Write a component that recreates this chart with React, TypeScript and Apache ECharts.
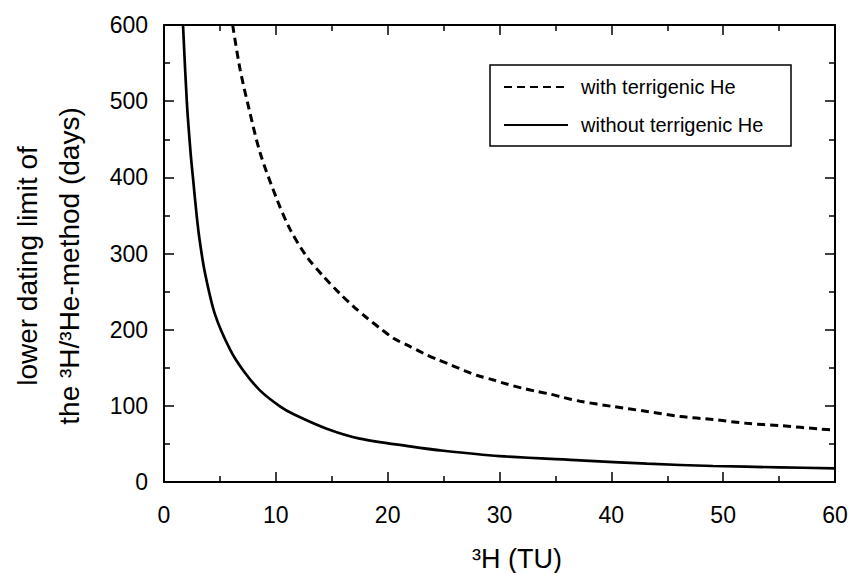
import React, { useEffect, useRef } from "react";
import * as echarts from "echarts";

// "with terrigenic He" (dashed)
const withX = [6.14, 6.8, 7.6, 8.6, 10.1, 11.3, 12.76, 14.25, 15.75, 16.9, 18.1, 19.4, 20.6, 21.85, 23.2, 24.5, 25.7, 26.9, 28.1, 29.45, 30.65, 32.0, 33.3, 34.5, 35.7, 37.2, 40.2, 43.2, 46.2, 49.1, 52.1, 55.1, 58.7, 60];
const withY = [600, 542, 490, 432, 371, 331, 296, 270, 247, 231, 216, 201, 188, 179, 169, 160.5, 153.5, 146, 139.5, 134, 128.6, 123.4, 119, 115.5, 111, 106, 99, 92.6, 86, 82, 77, 74, 69.5, 68];

// "without terrigenic He" (solid)
const withoutX = [1.7, 2.05, 2.39, 2.62, 2.92, 3.2, 3.67, 4.56, 5.9, 7.1, 8.6, 10.4, 11.6, 14.55, 17.5, 22, 25, 30, 37.2, 43.2, 49.1, 55, 60];
const withoutY = [600, 497, 430, 395, 350, 316, 274, 220, 174, 146, 120, 99, 89, 70, 57, 46.8, 41, 34, 28.5, 24, 21, 19.3, 18];

const seriesNames = ["with terrigenic He", "without terrigenic He"];
const xAxisTitle = "³H (TU)";
const yAxisTitleLines = ["lower dating limit of", "the ³H/³He-method (days)"];

const xMin = 0, xMax = 60, xStep = 10;
const yMin = 0, yMax = 600, yStep = 100;

export default function App() {
  const ref = useRef<HTMLDivElement>(null);
  useEffect(() => {
    const chart = echarts.init(ref.current!, null, { renderer: "svg" });
    const font = "'Liberation Sans', Arial, Helvetica, sans-serif";
    const axisLine = { show: true, onZero: false, lineStyle: { color: "#000", width: 2 } };
    const tick = { show: true, inside: true, length: 10, lineStyle: { color: "#000", width: 1.5 } };
    const minor = { show: true, splitNumber: 2, length: 6, lineStyle: { color: "#000", width: 1.5 } };
    const label = { color: "#000", fontSize: 23, fontFamily: font };
    const xCommon = { type: "value", min: xMin, max: xMax, interval: xStep, axisLine, axisTick: tick, minorTick: minor, splitLine: { show: false } };
    const yCommon = { type: "value", min: yMin, max: yMax, interval: yStep, axisLine, axisTick: tick, minorTick: minor, splitLine: { show: false } };
    const toPairs = (xs: number[], ys: number[]) => xs.map((x, i) => [x, ys[i]]);
    chart.setOption({
      animation: false,
      backgroundColor: "#fff",
      grid: { left: 164, right: 18, top: 25, bottom: 91 },
      xAxis: [
        { ...xCommon, position: "bottom", axisLabel: { ...label, margin: 21 } },
        { ...xCommon, position: "top", axisLabel: { show: false } },
      ],
      yAxis: [
        { ...yCommon, position: "left", axisLabel: { ...label, margin: 16 } },
        { ...yCommon, position: "right", axisLabel: { show: false } },
      ],
      legend: {
        show: true,
        orient: "vertical",
        left: 490,
        top: 65,
        padding: [12, 10, 11, 13],
        itemWidth: 64,
        itemHeight: 20,
        itemGap: 18,
        data: seriesNames,
        itemStyle: { opacity: 0, borderWidth: 0 },
        textStyle: { color: "#000", fontSize: 20, fontFamily: font, padding: [0, 0, 0, 8] },
      },
      graphic: [
        {
          type: "rect",
          shape: { x: 490, y: 65, width: 301, height: 81 },
          style: { fill: "none", stroke: "#000", lineWidth: 1.5 },
          z: 10,
        },
        {
          type: "text",
          x: 517,
          y: 559,
          style: {
            text: xAxisTitle,
            fontSize: 27,
            fontFamily: font,
            fill: "#000",
            align: "center",
            verticalAlign: "middle",
            textAlign: "center",
            textVerticalAlign: "middle",
          },
        },
        {
          type: "text",
          x: 48,
          y: 266,
          rotation: Math.PI / 2,
          style: {
            text: yAxisTitleLines.join("\n"),
            fontSize: 28,
            lineHeight: 42,
            fontFamily: font,
            fill: "#000",
            align: "center",
            verticalAlign: "middle",
            textAlign: "center",
            textVerticalAlign: "middle",
          },
        },
      ],
      series: [
        {
          name: seriesNames[0],
          type: "line",
          xAxisIndex: 0,
          yAxisIndex: 0,
          data: toPairs(withX, withY),
          symbol: "none",
          smooth: 0.3,
          clip: true,
          lineStyle: { color: "#000", width: 3, type: [8, 5] },
          itemStyle: { color: "#000" },
        },
        {
          name: seriesNames[1],
          type: "line",
          xAxisIndex: 0,
          yAxisIndex: 0,
          data: toPairs(withoutX, withoutY),
          symbol: "none",
          smooth: 0.3,
          clip: true,
          lineStyle: { color: "#000", width: 2.7, type: "solid" },
          itemStyle: { color: "#000" },
        },
      ],
    });
    return () => chart.dispose();
  }, []);
  return (
    <div
      ref={ref}
      style={{ position: "absolute", left: 0, top: 0, width: 853, height: 573, background: "#fff" }}
    />
  );
}
